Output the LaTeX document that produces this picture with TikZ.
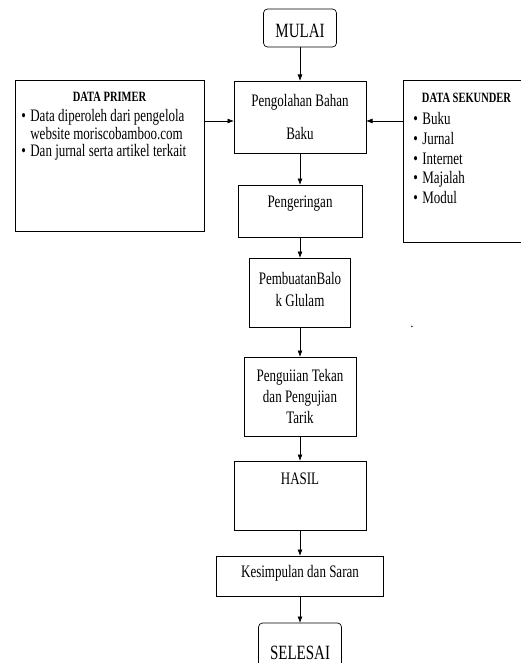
\documentclass[tikz,border=0pt]{standalone}
\usepackage{fontspec}
\setmainfont{Liberation Serif}
\usetikzlibrary{positioning}
\usetikzlibrary{arrows.meta}
\newcommand{\butir}{\makebox[9pt][l]{\textbullet}}

\begin{document}
\begin{tikzpicture}[x=1pt,y=-1pt,line width=0.7pt,
panah/.style={-{Latex[length=6.5pt,width=5pt]}},
kotak/.style={draw,rectangle,outer sep=0pt,inner sep=0pt},
ujung/.style={draw,rectangle,rounded corners=4pt,outer sep=0pt,inner sep=0pt},
teks/.style={font=\fontsize{13}{15.5}\selectfont,yscale=1.35,align=center,inner sep=0pt},
teksU/.style={font=\fontsize{15}{18}\selectfont,yscale=1.35,inner sep=0pt},
judul/.style={font=\bfseries\fontsize{10.5}{12}\selectfont,yscale=1.35,inner sep=0pt},
daftar/.style={yscale=1.35,align=left,inner sep=0pt,anchor=west}
]
\path[use as bounding box,clip] (0,0) rectangle (521,663);
%--
\node[ujung,minimum width=73pt,minimum height=38pt] (mulai) at (300,28){};
\node[teksU] at ([yshift=-3pt]mulai.center){MULAI};
%--
\node[kotak,minimum width=132pt,minimum height=72pt,below = 34pt of mulai](olah){};
\node[teks,font=\fontsize{13}{24.4}\selectfont] at (olah.center){Pengolahan Bahan\\Baku};
\draw [panah] (mulai) -- (olah);
%--
\node[kotak,minimum width=189pt,minimum height=151pt] (primer) at (109.5,155.5){};
\node[judul] at ([yshift=-17pt]primer.north){DATA PRIMER};
\node[daftar,font=\fontsize{13}{13}\selectfont] at ([xshift=6pt,yshift=-55pt]primer.north west){\butir Data diperoleh dari pengelola\\\phantom{\butir}website moriscobamboo.com\\\butir Dan jurnal serta artikel terkait};
\coordinate (masuk) at ([yshift=-4pt]olah.west);
\draw [panah] (primer.east |- masuk) -- (masuk);
%--
\node[kotak,minimum width=127pt,minimum height=162pt] (sekunder) at (466.5,161){};
\node[judul] at ([yshift=-18pt]sekunder.north){DATA SEKUNDER};
\node[daftar,font=\fontsize{13}{14.8}\selectfont] at ([xshift=10pt,yshift=-78pt]sekunder.north west){\butir Buku\\\butir Jurnal\\\butir Internet\\\butir Majalah\\\butir Modul};
\coordinate (keluar) at ([yshift=-4pt]olah.east);
\draw [panah] (sekunder.west |- keluar) -- (keluar);
%--
\node[kotak,minimum width=124pt,minimum height=52pt,below = 32pt of olah](kering){};
\node[teks] at ([yshift=7pt]kering.center){Pengeringan};
\draw [panah] (olah) -- (kering);
%--
\node[kotak,minimum width=101pt,minimum height=69pt,below = 21pt of kering](balok){};
\node[teks,font=\fontsize{13}{16.3}\selectfont] at ([yshift=3pt]balok.center){PembuatanBalo\\k Glulam};
\draw [panah] (kering) -- (balok);
%--
\node[kotak,minimum width=112pt,minimum height=79pt,below = 30pt of balok](uji){};
\node[teks,font=\fontsize{13}{15.2}\selectfont] at (uji.center){Penguiian Tekan\\dan Pengujian\\Tarik};
\draw [panah] (balok) -- (uji);
%--
\node[font=\fontsize{13}{13}\selectfont] (titik) at (412,327){.};
%--
\node[kotak,minimum width=132pt,minimum height=69pt,below = 25pt of uji](hasil){};
\node[teks] at ([yshift=-18pt]hasil.north){HASIL};
\draw [panah] (uji) -- (hasil);
%--
\node[kotak,minimum width=167pt,minimum height=40pt,below = 26pt of hasil](simpul){};
\node[teks] at ([yshift=3pt]simpul.center){Kesimpulan dan Saran};
\draw [panah] (hasil) -- (simpul);
%--
\node[ujung,minimum width=83pt,minimum height=44pt,below = 27pt of simpul](selesai){};
\node[teksU] at ([yshift=-30pt]selesai.north){SELESAI};
\draw [panah] (simpul) -- (selesai);
\end{tikzpicture}
\end{document}
